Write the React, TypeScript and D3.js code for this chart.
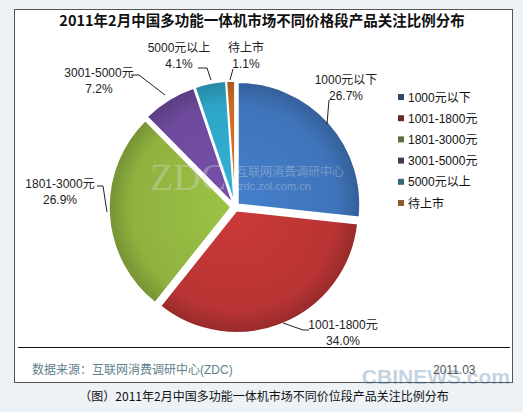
import React, { useEffect, useRef } from "react";
import * as d3 from "d3";

const categories = ["1000元以下", "1001-1800元", "1801-3000元", "3001-5000元", "5000元以上", "待上市"];
const shares = [26.7, 34.0, 26.9, 7.2, 4.1, 1.1];
const sliceColors = ["#3f74ba", "#b93434", "#8fb23f", "#6d4a9c", "#2ea5c6", "#cc6a22"];
const legendColors = ["#2d4a68", "#6e2828", "#5c6e3a", "#423c55", "#2f6c7a", "#8c5a2c"];
// label anchor positions (text centre) and leader line points, per slice
const labelPos = [[346, 80], [343, 325], [60, 184], [99, 73], [179, 48], [246, 48]];
const leaders = [
  [[329, 100], [327, 124]],
  [[283, 323], [303, 330], [309, 330]],
  [[97, 186], [103, 186], [107, 212]],
  [[131, 75], [139, 75], [165, 95]],
  [[198, 68], [207, 68], [211, 80]],
  [[233, 69], [230, 80]],
];

const W = 523;
const H = 412;

export default function App() {
  const ref = useRef<SVGSVGElement>(null);

  useEffect(() => {
    const svg = d3.select(ref.current);
    svg.selectAll("*").remove();

    svg.append("rect").attr("width", W).attr("height", H).attr("fill", "#edf2f7");
    svg.append("rect").attr("x", 14.5).attr("y", 9.5).attr("width", 498).attr("height", 373)
      .attr("fill", "#fff").attr("stroke", "#555").attr("stroke-width", 1);

    svg.append("text").attr("x", 262).attr("y", 26).attr("text-anchor", "middle")
      .attr("font-family", "'Noto Sans CJK SC', sans-serif").attr("font-weight", "bold")
      .attr("font-size", 14.5).attr("fill", "#111")
      .text("2011年2月中国多功能一体机市场不同价格段产品关注比例分布");

    const defs = svg.append("defs");
    sliceColors.forEach((c, i) => {
      const g = defs.append("radialGradient").attr("id", "sg" + i)
        .attr("gradientUnits", "userSpaceOnUse")
        .attr("cx", 0).attr("cy", 0).attr("r", 124);
      g.append("stop").attr("offset", "0%").attr("stop-color", d3.color(c)!.brighter(0.25).formatHex());
      g.append("stop").attr("offset", "80%").attr("stop-color", c);
      g.append("stop").attr("offset", "100%").attr("stop-color", d3.color(c)!.darker(0.6).formatHex());
    });

    const cx = 235, cy = 207, r = 122, off = 4;
    const pie = d3.pie<number>().sort(null).value(d => d);
    const arc = d3.arc<d3.PieArcDatum<number>>().innerRadius(0).outerRadius(r);
    const arcs = pie(shares);

    const gPie = svg.append("g").attr("transform", `translate(${cx},${cy})`);
    gPie.selectAll("path").data(arcs).join("path")
      .attr("transform", d => {
        const a = (d.startAngle + d.endAngle) / 2;
        return `translate(${off * Math.sin(a)},${-off * Math.cos(a)})`;
      })
      .attr("d", arc)
      .attr("fill", (d, i) => `url(#sg${i})`)
      .attr("stroke", "#fff").attr("stroke-width", 1.5);

    // watermark
    const wm = svg.append("g").attr("opacity", 0.35);
    wm.append("text").attr("x", 150).attr("y", 190).attr("font-family", "'Liberation Serif', serif")
      .attr("font-size", 38).attr("fill", "#ddd").text("ZDC");
    wm.append("text").attr("x", 236).attr("y", 176).attr("font-family", "'Noto Sans CJK SC', sans-serif")
      .attr("font-size", 12).attr("fill", "#ddd").text("互联网消费调研中心");
    wm.append("text").attr("x", 238).attr("y", 190).attr("font-family", "'Liberation Sans', sans-serif")
      .attr("font-size", 11).attr("fill", "#ddd").text("zdc.zol.com.cn");

    // labels
    const font = "'Liberation Sans', 'Noto Sans CJK SC', sans-serif";
    const gl = svg.append("g").attr("font-family", font).attr("font-size", 12).attr("fill", "#222");
    const line = d3.line();
    leaders.forEach(pts => {
      gl.append("path").attr("d", line(pts as [number, number][])).attr("fill", "none")
        .attr("stroke", "#222").attr("stroke-width", 1);
    });
    categories.forEach((c, i) => {
      const [x, y] = labelPos[i];
      gl.append("text").attr("x", x).attr("y", y + 4).attr("text-anchor", "middle").text(c);
      gl.append("text").attr("x", x).attr("y", y + 20).attr("text-anchor", "middle")
        .text(d3.format(".1f")(shares[i]) + "%");
    });

    // legend
    const lg = svg.append("g").attr("font-family", font).attr("font-size", 12).attr("fill", "#111");
    const ly = d3.scalePoint<string>().domain(categories).range([97, 203]);
    categories.forEach((c, i) => {
      lg.append("rect").attr("x", 398).attr("y", ly(c)! - 3).attr("width", 6).attr("height", 6)
        .attr("fill", legendColors[i]);
      lg.append("text").attr("x", 408).attr("y", ly(c)! + 4.5).text(c);
    });

    svg.append("line").attr("x1", 18).attr("x2", 510).attr("y1", 347.5).attr("y2", 347.5)
      .attr("stroke", "#111").attr("stroke-width", 1);
    svg.append("text").attr("x", 32).attr("y", 374).attr("font-family", font).attr("font-size", 12)
      .attr("fill", "#5f7f8c").text("数据来源：互联网消费调研中心(ZDC)");

    // site watermark (behind the date, as in the reference)
    svg.append("text").attr("x", 510).attr("y", 384).attr("text-anchor", "end")
      .attr("font-family", "'Liberation Sans', sans-serif").attr("font-weight", "bold")
      .attr("font-size", 21).attr("fill", "#3d6f9a").attr("opacity", 0.3).text("CBINEWS.com");

    svg.append("text").attr("x", 433).attr("y", 374).attr("font-family", font).attr("font-size", 12)
      .attr("fill", "#555").text("2011.03");

    svg.append("text").attr("x", 264).attr("y", 401).attr("text-anchor", "middle")
      .attr("font-family", "'Noto Sans CJK SC', sans-serif").attr("font-size", 12).attr("fill", "#111")
      .text("（图）2011年2月中国多功能一体机市场不同价位段产品关注比例分布");
  }, []);

  return (
    <svg ref={ref} width={W} height={H} style={{ position: "absolute", left: 0, top: 0 }} />
  );
}
